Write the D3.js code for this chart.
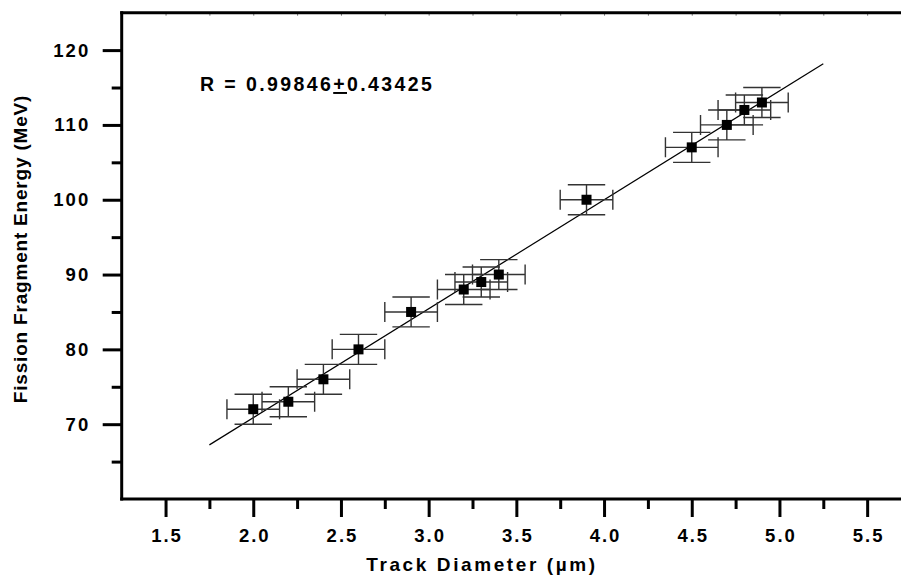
<!DOCTYPE html>
<html><head><meta charset="utf-8">
<script src="https://cdn.jsdelivr.net/npm/d3@7"></script>
<style>
body{margin:0;background:#fff;}
svg{display:block;font-family:"Liberation Sans",Arial,sans-serif;font-weight:bold;}
</style></head>
<body><svg id="c" width="901" height="577"></svg>
<script>
const diameter = [2.0, 2.2, 2.4, 2.6, 2.9, 3.2, 3.3, 3.4, 3.9, 4.5, 4.7, 4.8, 4.9];
const energy   = [72, 73, 76, 80, 85, 88, 89, 90, 100, 107, 110, 112, 113];
const xErr = 0.15;
const yErr = 2;
const xMajorTicks = [1.5, 2.0, 2.5, 3.0, 3.5, 4.0, 4.5, 5.0, 5.5];
const xMinorTicks = [1.75, 2.25, 2.75, 3.25, 3.75, 4.25, 4.75, 5.25];
const yMajorTicks = [70, 80, 90, 100, 110, 120];
const yMinorTicks = [65, 75, 85, 95, 105, 115];
const fitRange = [1.75, 5.25];
const xTitle = "Track Diameter (µm)";
const yTitle = "Fission Fragment Energy (MeV)";
const rLabel = ["R = 0.99846", "+", "0.43425"];

const FONT = '"Liberation Sans",Arial,sans-serif';
const svg = d3.select("#c");
const x = d3.scaleLinear().domain([1.25, 5.75]).range([121.7, 911]);
const y = d3.scaleLinear().domain([60, 125]).range([499, 12.7]);
const L = x.range()[0], R = x.range()[1], B = y.range()[0], T = y.range()[1];

// linear regression from data
const n = diameter.length;
const mx = d3.mean(diameter), my = d3.mean(energy);
let sxy = 0, sxx = 0;
for (let i = 0; i < n; i++) { sxy += (diameter[i]-mx)*(energy[i]-my); sxx += (diameter[i]-mx)**2; }
const slope = sxy/sxx, icpt = my - slope*mx;

// top axis minor inward ticks
svg.append("g").attr("transform", `translate(0,${T})`)
  .call(d3.axisTop(x).tickValues(xMajorTicks.concat(xMinorTicks)).tickSize(-3).tickFormat(""))
  .call(g => g.select(".domain").remove())
  .call(g => g.selectAll("line").attr("stroke", "#777").attr("stroke-width", 1));

// bottom axis
const gx = svg.append("g").attr("transform", `translate(0,${B})`);
gx.call(d3.axisBottom(x).tickValues(xMajorTicks).tickSize(18).tickPadding(12).tickFormat(d3.format(".1f")));
gx.select(".domain").remove();
gx.selectAll("line").attr("stroke", "#000").attr("stroke-width", 3);
gx.selectAll("text").attr("font-size", 18.5).attr("font-weight", "bold").attr("fill", "#000")
  .attr("letter-spacing", "2px").attr("dx", "1px").attr("font-family", FONT);
svg.append("g").attr("transform", `translate(0,${B})`)
  .call(d3.axisBottom(x).tickValues(xMinorTicks).tickSize(10).tickFormat(""))
  .call(g => g.select(".domain").remove())
  .call(g => g.selectAll("line").attr("stroke", "#000").attr("stroke-width", 3));

// left axis
const gy = svg.append("g").attr("transform", `translate(${L},0)`);
gy.call(d3.axisLeft(y).tickValues(yMajorTicks).tickSize(19).tickPadding(12.5));
gy.select(".domain").remove();
gy.selectAll("line").attr("stroke", "#000").attr("stroke-width", 3);
gy.selectAll("text").attr("font-size", 18.5).attr("font-weight", "bold").attr("fill", "#000")
  .attr("letter-spacing", "2px").attr("font-family", FONT);
svg.append("g").attr("transform", `translate(${L},0)`)
  .call(d3.axisLeft(y).tickValues(yMinorTicks).tickSize(10).tickFormat(""))
  .call(g => g.select(".domain").remove())
  .call(g => g.selectAll("line").attr("stroke", "#000").attr("stroke-width", 3));

// frame lines
svg.append("line").attr("x1", L).attr("x2", L).attr("y1", T-1.5).attr("y2", B+1.5).attr("stroke", "#000").attr("stroke-width", 3);
svg.append("line").attr("x1", L-1.5).attr("x2", R).attr("y1", B).attr("y2", B).attr("stroke", "#000").attr("stroke-width", 3);
svg.append("line").attr("x1", L-1.5).attr("x2", R).attr("y1", T).attr("y2", T).attr("stroke", "#000").attr("stroke-width", 3);
svg.append("line").attr("x1", R).attr("x2", R).attr("y1", T).attr("y2", B).attr("stroke", "#000").attr("stroke-width", 3);

// fit line
svg.append("line")
  .attr("x1", x(fitRange[0])).attr("y1", y(icpt + slope*fitRange[0]))
  .attr("x2", x(fitRange[1])).attr("y2", y(icpt + slope*fitRange[1]))
  .attr("stroke", "#000").attr("stroke-width", 1.2);

// error bars
const pts = diameter.map((d, i) => ({x: d, y: energy[i]}));
const eb = svg.append("g").attr("stroke", "#333").attr("stroke-width", 1.4).attr("fill", "none");
const capV = 18.7, capH = 10;
pts.forEach(p => {
  const cx = x(p.x), cy = y(p.y);
  const x0 = x(p.x - xErr), x1 = x(p.x + xErr), y0 = y(p.y - yErr), y1 = y(p.y + yErr);
  eb.append("path").attr("d",
    `M${x0},${cy}H${x1}M${x0},${cy-capH}V${cy+capH}M${x1},${cy-capH}V${cy+capH}` +
    `M${cx},${y0}V${y1}M${cx-capV},${y0}H${cx+capV}M${cx-capV},${y1}H${cx+capV}`);
});

// markers
svg.append("g").selectAll("rect").data(pts).join("rect")
  .attr("x", d => x(d.x) - 5).attr("y", d => y(d.y) - 5)
  .attr("width", 10).attr("height", 10).attr("fill", "#000");

// R label
const rt = svg.append("text").attr("x", 200).attr("y", 91).attr("font-size", 19.5)
  .attr("letter-spacing", "2.4px").attr("fill", "#000");
rt.append("tspan").text(rLabel[0]);
rt.append("tspan").attr("text-decoration", "underline").text(rLabel[1]);
rt.append("tspan").text(rLabel[2]);

// axis titles
svg.append("text").attr("x", 482).attr("y", 571).attr("text-anchor", "middle")
  .attr("font-size", 19).attr("letter-spacing", "2.6px").attr("fill", "#000").text(xTitle);
svg.append("text").attr("transform", "translate(27,249) rotate(-90)").attr("text-anchor", "middle")
  .attr("font-size", 19).attr("letter-spacing", "0.8px").attr("fill", "#000").text(yTitle);
</script></body></html>
